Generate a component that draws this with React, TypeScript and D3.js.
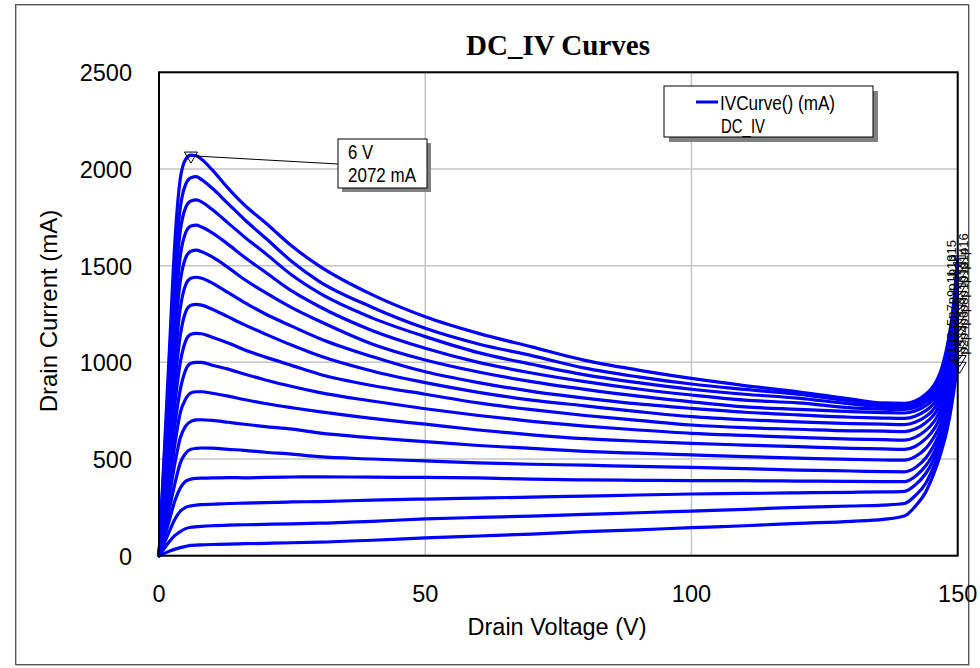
import React from 'react';
import * as d3 from 'd3';

const xTicks = [0, 50, 100, 150];
const yTicks = [0, 500, 1000, 1500, 2000, 2500];
const chartTitle = 'DC_IV Curves';
const xTitle = 'Drain Voltage (V)';
const yTitle = 'Drain Current (mA)';
const legendLabels = ['IVCurve() (mA)', 'DC_IV'];
const markerVoltage = 6;
const markerCurrent = 2072;
const markerLabels = ['6 V', '2072 mA'];

const drainVoltage = [0, 1, 2, 3, 4, 5, 6, 7, 8, 10, 13, 16, 20, 25, 30, 40, 50, 60, 70, 80, 90, 100, 110, 120, 130, 136, 140, 142, 144, 145, 146, 147, 148, 149, 149.5, 150];

const curve01 = [0, 12, 24, 34, 42, 48, 53, 55, 56, 58, 60, 62, 64, 67, 70, 80, 92, 102, 112, 124, 134, 145, 155, 167, 178, 188, 205, 255, 330, 390, 460, 547, 650, 800, 895, 985];
const curve02 = [0, 38, 75, 105, 125, 140, 147, 150, 152, 155, 158, 160, 162, 165, 168, 178, 190, 198, 205, 214, 222, 231, 240, 250, 257, 262, 270, 310, 375, 430, 495, 575, 675, 825, 920, 1020];
const curve03 = [0, 65, 130, 190, 230, 250, 258, 262, 264, 266, 270, 272, 275, 278, 280, 287, 293, 298, 303, 308, 314, 319, 322, 325, 328, 330, 333, 365, 425, 470, 530, 605, 700, 850, 950, 1060];
const curve04 = [0, 95, 190, 285, 350, 385, 396, 400, 401, 402, 404, 403, 405, 407, 408, 406, 405, 402, 396, 392, 390, 388, 388, 386, 384, 383, 383, 410, 465, 505, 560, 630, 725, 875, 975, 1095];
const curve05 = [0, 125, 250, 375, 480, 530, 550, 555, 557, 556, 550, 545, 535, 525, 512, 500, 490, 480, 473, 468, 462, 457, 450, 443, 438, 435, 434, 455, 505, 545, 595, 660, 755, 905, 1005, 1130];
const curve06 = [0, 160, 320, 480, 610, 670, 695, 702, 703, 700, 690, 680, 668, 655, 635, 610, 590, 570, 555, 540, 530, 521, 512, 505, 498, 495, 494, 512, 555, 590, 635, 695, 790, 940, 1040, 1170];
const curve07 = [0, 190, 380, 580, 740, 810, 842, 848, 848, 840, 825, 808, 787, 765, 745, 710, 680, 650, 625, 605, 592, 581, 572, 564, 555, 552, 550, 565, 605, 635, 675, 735, 825, 975, 1075, 1205];
const curve08 = [0, 220, 450, 680, 860, 960, 995, 1000, 1000, 985, 965, 940, 909, 875, 845, 800, 760, 725, 695, 670, 650, 633, 622, 612, 603, 600, 598, 612, 648, 675, 712, 770, 860, 1010, 1110, 1240];
const curve09 = [0, 260, 530, 790, 1000, 1110, 1145, 1150, 1148, 1130, 1100, 1065, 1027, 983, 940, 880, 835, 790, 755, 725, 700, 676, 662, 654, 646, 644, 642, 655, 688, 712, 748, 805, 895, 1045, 1150, 1280];
const curve10 = [0, 300, 610, 900, 1140, 1260, 1295, 1300, 1296, 1275, 1235, 1195, 1146, 1088, 1035, 955, 895, 845, 805, 775, 745, 719, 703, 692, 683, 680, 678, 690, 720, 743, 778, 835, 925, 1080, 1185, 1315];
const curve11 = [0, 340, 690, 1020, 1280, 1400, 1435, 1440, 1435, 1410, 1360, 1310, 1250, 1186, 1125, 1030, 951, 895, 850, 815, 785, 762, 742, 728, 716, 712, 710, 721, 750, 772, 806, 862, 955, 1110, 1220, 1350];
const curve12 = [0, 380, 770, 1140, 1420, 1540, 1575, 1580, 1572, 1545, 1490, 1430, 1360, 1282, 1215, 1095, 1012, 950, 900, 860, 825, 796, 770, 757, 745, 740, 738, 748, 776, 797, 830, 887, 982, 1142, 1255, 1390];
const curve13 = [0, 420, 850, 1260, 1550, 1670, 1705, 1710, 1700, 1670, 1610, 1545, 1466, 1368, 1290, 1165, 1073, 1000, 945, 900, 862, 831, 805, 790, 765, 758, 756, 766, 795, 816, 850, 907, 1005, 1170, 1290, 1425];
const curve14 = [0, 460, 920, 1380, 1680, 1800, 1835, 1840, 1830, 1790, 1720, 1650, 1563, 1450, 1360, 1230, 1133, 1050, 990, 935, 895, 861, 835, 815, 785, 772, 770, 780, 810, 832, 867, 927, 1030, 1200, 1320, 1460];
const curve15 = [0, 500, 1000, 1500, 1800, 1920, 1955, 1960, 1945, 1900, 1820, 1740, 1643, 1520, 1420, 1285, 1176, 1095, 1035, 970, 925, 888, 860, 835, 800, 782, 780, 791, 822, 847, 884, 947, 1055, 1225, 1350, 1500];
const curve16 = [0, 540, 1090, 1632, 1950, 2050, 2072, 2068, 2050, 1995, 1900, 1815, 1722, 1600, 1500, 1350, 1236, 1150, 1080, 1010, 960, 917, 880, 848, 810, 790, 788, 800, 835, 862, 902, 970, 1080, 1250, 1380, 1535];

const curves = [curve01, curve02, curve03, curve04, curve05, curve06, curve07, curve08, curve09, curve10, curve11, curve12, curve13, curve14, curve15, curve16];

const SANS = 'Liberation Sans, Arial, sans-serif';
const SERIF = 'Liberation Serif, Times New Roman, serif';

function tri(px: number, py: number) {
  return `M${px - 6.5},${py - 3}L${px + 6.5},${py - 3}L${px},${py + 8}Z`;
}

export default function App() {
  const W = 980;
  const H = 668;
  const x = d3.scaleLinear().domain([0, 150]).range([159, 957.7]);
  const y = d3.scaleLinear().domain([0, 2500]).range([555.7, 72.3]);
  const [x0, x1] = x.range();
  const [y0, y1] = y.range();
  const line = d3
    .line<number>()
    .x((_, i) => x(drainVoltage[i]))
    .y((d) => y(d))
    .curve(d3.curveMonotoneX);

  const mx = x(markerVoltage);
  const my = y(markerCurrent);
  const lastV = drainVoltage[drainVoltage.length - 1];

  return (
    <svg width={W} height={H} style={{ position: 'absolute', left: 0, top: 0, background: '#fff' }}>
      <rect x={0} y={0} width={W} height={H} fill="#fff" />
      {/* outer frame */}
      <rect x={16.5} y={5.5} width={953} height={660} fill="none" stroke="#bdbdbd" strokeWidth={1} />
      <rect x={15.5} y={4.5} width={953} height={660} fill="none" stroke="#555" strokeWidth={1} />

      {/* title */}
      <text x={558} y={55} textAnchor="middle" fontFamily={SERIF} fontWeight="bold" fontSize={29} fill="#000">
        {chartTitle}
      </text>

      {/* grid */}
      {xTicks.map((t) => (
        <line key={'gx' + t} x1={x(t)} x2={x(t)} y1={y1} y2={y0} stroke="#c4c4c4" strokeWidth={1.5} />
      ))}
      {yTicks.map((t) => (
        <line key={'gy' + t} x1={x0} x2={x1} y1={y(t)} y2={y(t)} stroke="#c4c4c4" strokeWidth={1.5} />
      ))}

      {/* curves */}
      <defs>
        <clipPath id="plotclip">
          <rect x={x0 - 2} y={y1} width={x1 - x0 + 4} height={y0 - y1 + 2} />
        </clipPath>
      </defs>
      <g clipPath="url(#plotclip)">
        {curves.map((c, i) => (
          <path key={'c' + i} d={line(c) || ''} fill="none" stroke="#0000ff" strokeWidth={3.2} strokeLinejoin="round" strokeLinecap="round" />
        ))}
      </g>

      {/* plot border */}
      <rect x={x0} y={y1} width={x1 - x0} height={y0 - y1} fill="none" stroke="#000" strokeWidth={2} />

      {/* y tick labels */}
      {yTicks.map((t) => (
        <text key={'yl' + t} x={132} y={y(t) + 9} textAnchor="end" fontFamily={SANS} fontSize={23.5} fill="#000">
          {t}
        </text>
      ))}
      {/* x tick labels */}
      {xTicks.map((t) => (
        <text key={'xl' + t} x={x(t)} y={602} textAnchor="middle" fontFamily={SANS} fontSize={23.5} fill="#000">
          {t}
        </text>
      ))}

      {/* axis titles */}
      <text x={557} y={635} textAnchor="middle" fontFamily={SANS} fontSize={23.5} fill="#000">
        {xTitle}
      </text>
      <text transform={`translate(57,311) rotate(-90)`} textAnchor="middle" fontFamily={SANS} fontSize={24} fill="#000">
        {yTitle}
      </text>

      {/* legend */}
      <rect x={669} y={91} width={209} height={51} fill="#808080" />
      <rect x={664} y={86} width={209} height={51} fill="#fff" stroke="#000" strokeWidth={1} />
      <line x1={696} x2={718} y1={102} y2={102} stroke="#0000ff" strokeWidth={3} />
      <text x={720} y={110} fontFamily={SANS} fontSize={20} textLength={115} lengthAdjust="spacingAndGlyphs" fill="#000">
        {legendLabels[0]}
      </text>
      <text x={721} y={133} fontFamily={SANS} fontSize={20} textLength={44} lengthAdjust="spacingAndGlyphs" fill="#000">
        {legendLabels[1]}
      </text>

      {/* peak marker */}
      <line x1={mx + 5} x2={338} y1={my + 1} y2={164} stroke="#000" strokeWidth={1} />
      <path d={tri(mx, my)} fill="none" stroke="#000" strokeWidth={1} />
      <rect x={342} y={143} width={89} height={49} fill="#808080" />
      <rect x={338} y={139} width={89} height={49} fill="#fff" stroke="#000" strokeWidth={1} />
      <text x={348} y={159} fontFamily={SANS} fontSize={20} textLength={25} lengthAdjust="spacingAndGlyphs" fill="#000">
        {markerLabels[0]}
      </text>
      <text x={348} y={181.5} fontFamily={SANS} fontSize={20} textLength={68} lengthAdjust="spacingAndGlyphs" fill="#000">
        {markerLabels[1]}
      </text>

      {/* end markers */}
      {curves.map((c, i) => {
        const ey = y(c[c.length - 1]);
        const ex = x(lastV);
        const lx = i % 2 === 0 ? 956 : 968;
        return (
          <g key={'em' + i}>
            <path d={tri(ex + 2, ey)} fill="none" stroke="#000" strokeWidth={1} />
            <text transform={`translate(${lx},${ey - 4}) rotate(-90)`} fontFamily={SANS} fontSize={13} fill="#000">
              {'p' + (i + 1)}
            </text>
          </g>
        );
      })}
    </svg>
  );
}
